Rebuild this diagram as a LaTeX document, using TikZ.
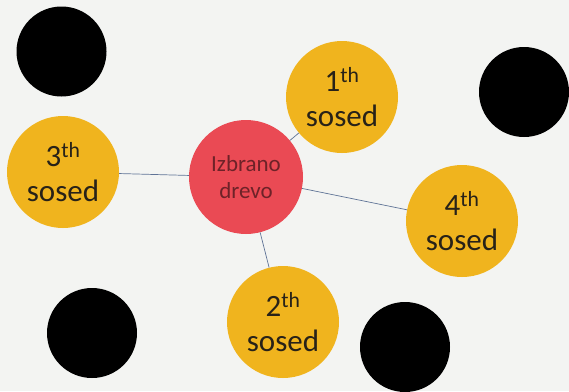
\documentclass[tikz,border=0pt]{standalone}
\usepackage{fontspec}
\setmainfont{Carlito}
\usepackage{xcolor}
\usetikzlibrary{positioning}
\definecolor{paper}{RGB}{243,244,242}
\definecolor{sosedfill}{RGB}{240,180,30}
\definecolor{sosedtext}{RGB}{40,34,24}
\definecolor{drevofill}{RGB}{234,74,84}
\definecolor{drevotext}{RGB}{110,34,40}
\definecolor{linkcol}{RGB}{95,115,150}
\tikzset{
  sosed/.style={circle, fill=sosedfill, minimum size=112pt, inner sep=0pt,
    align=center, text=sosedtext, font=\fontsize{31}{35}\selectfont},
  drevo/.style={circle, fill=drevofill, minimum size=114pt, inner sep=0pt,
    align=center, text=drevotext, font=\fontsize{23}{27}\selectfont},
  tuje/.style={circle, fill=black, minimum size=90pt, inner sep=0pt}, % other trees
  povezava/.style={draw=linkcol, line width=0.7pt}
}

\begin{document}
\begin{tikzpicture}[x=1pt, y=-1pt]
  \fill[paper] (0,0) rectangle (569,391);
  \useasboundingbox (0,0) rectangle (569,391);
  \clip (0,0) rectangle (569,391);
  % other trees
  \node[tuje] (t1) at (61.5,51.5) {};
  \node[tuje] (t2) at (524,92) {};
  \node[tuje] (t3) at (92,333) {};
  \node[tuje] (t4) at (405,347) {};
  % chosen tree
  \node[drevo] (drevo) at (246,177) {Izbrano\\drevo};
  % neighbours
  \node[sosed] (s1) at (342,97) {1\textsuperscript{th}\\sosed};
  \node[sosed] (s2) at (283,322) {2\textsuperscript{th}\\sosed};
  \node[sosed] (s3) at (63,172) {3\textsuperscript{th}\\sosed};
  \node[sosed] (s4) at (462,221) {4\textsuperscript{th}\\sosed};
  % links
  \foreach \s in {s1,s2,s3,s4}
    \draw[povezava] (drevo) -- (\s);
\end{tikzpicture}
\end{document}
